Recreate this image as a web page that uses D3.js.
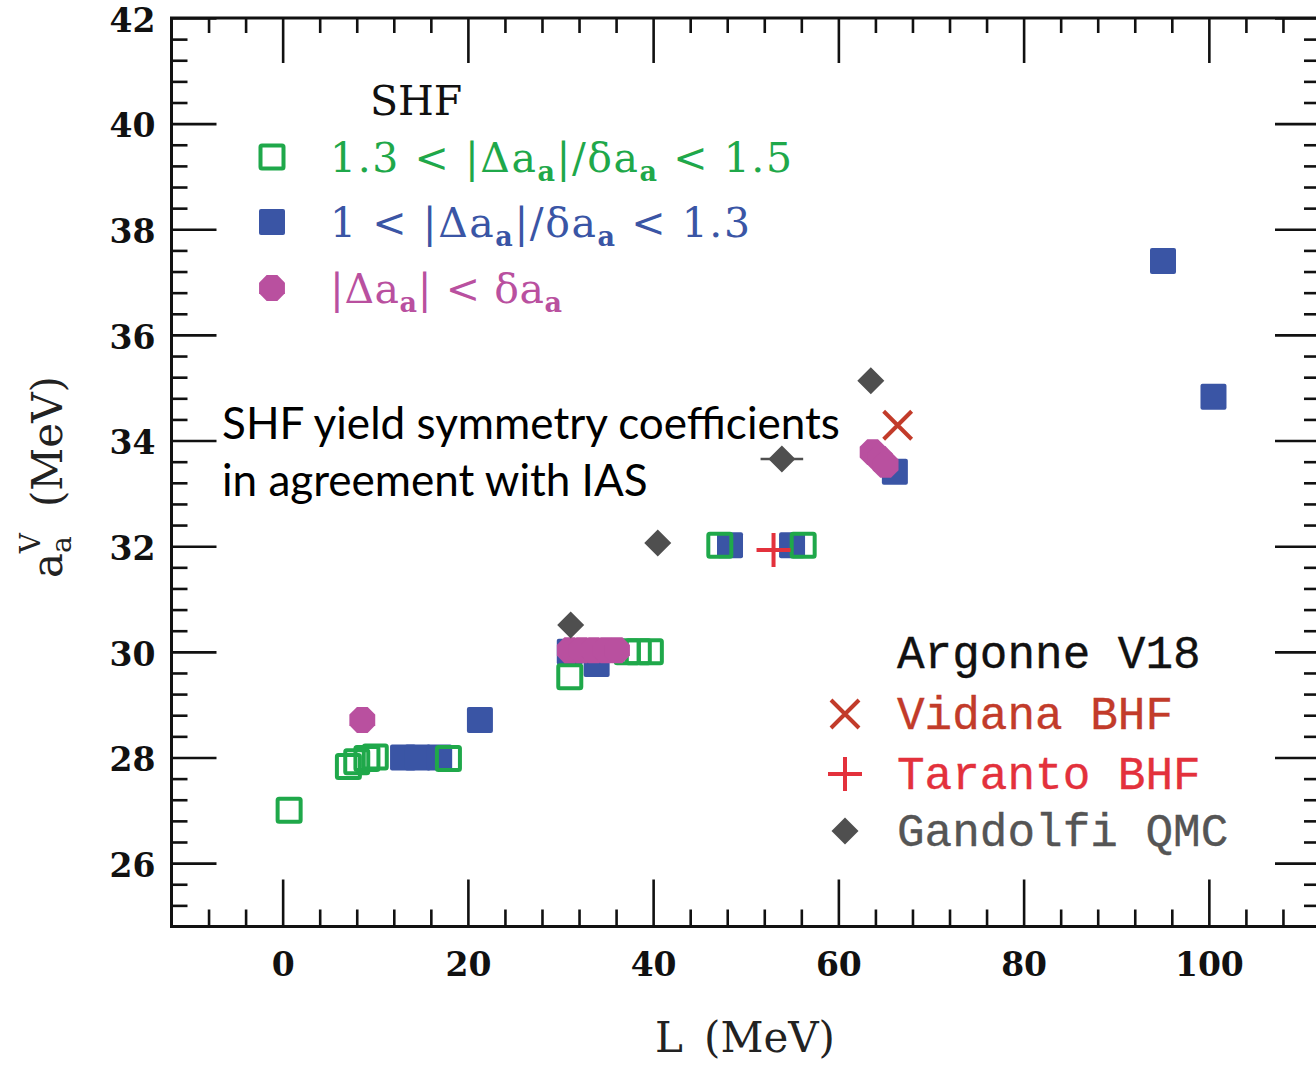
<!DOCTYPE html>
<html><head><meta charset="utf-8">
<script src="https://cdn.jsdelivr.net/npm/d3@7"></script>
<style>body{margin:0;background:#fff} svg{display:block}</style>
</head><body>
<svg id="c" width="1316" height="1066"></svg>
<script>
// ---- tick labels ----
const xMajorTicks = [0, 20, 40, 60, 80, 100];
const yMajorTicks = [26, 28, 30, 32, 34, 36, 38, 40, 42];
const xMinorTicks = d3.range(-2, 28).map(i => i * 4).filter(v => v % 20 !== 0);
const yMinorTicks = d3.range(63, 105).filter(i => i % 5 !== 0).map(i => +(i * 0.4).toFixed(1));

// ---- data: SHF 1.3 < |Δa|/δa < 1.5 (open green squares) ----
const greenL = [0.7, 7.1, 8.0, 9.1, 10.0, 17.9, 31.0, 37.2, 38.4, 39.7, 47.2, 56.2];
const greenA = [27.0, 27.83, 27.92, 27.98, 28.01, 27.98, 29.53, 30.0, 30.0, 30.0, 32.02, 32.02];
// ---- SHF 1 < |Δa|/δa < 1.3 (filled blue squares) ----
const blueL = [13.0, 14.6, 16.9, 21.3, 31.0, 33.9, 48.3, 55.0, 66.1, 95.05, 100.5];
const blueA = [28.0, 28.0, 28.0, 28.71, 30.0, 29.77, 32.02, 32.02, 33.41, 37.4, 34.83];
// ---- SHF |Δa| < δa (magenta octagons) ----
const magL = [8.6, 31.0, 32.3, 33.6, 34.9, 36.1, 63.7, 64.5, 65.1];
const magA = [28.71, 30.03, 30.03, 30.03, 30.03, 30.03, 33.78, 33.65, 33.54];
// ---- Argonne V18 ----
const vidanaL = [66.4];
const vidanaA = [34.29];
const tarantoL = [53.0];
const tarantoA = [31.93];
const gandolfiL = [31.1, 40.5, 53.9, 63.5];
const gandolfiA = [30.51, 32.06, 33.65, 35.13];
const gandolfiErrL = [0, 0, 2.3, 0];

const C = {green: "#1fa84a", blue: "#3a55a5", mag: "#b9509f", grey: "#4f4f4f",
           vidana: "#c23b2a", taranto: "#e3313c"};

const svg = d3.select("#c");
const X0 = 171.5, X1 = 1320, Y0 = 926.5, Y1 = 18;
const x = d3.scaleLinear().domain([-12, 112]).range([X0, X1]);
const y = d3.scaleLinear().domain([24.8, 42]).range([Y0, Y1]);

const tickFont = "DejaVu Serif";
function styleAxis(g, hideText) {
  g.select(".domain").remove();
  g.selectAll(".tick line").attr("stroke", "#111").attr("stroke-width", 2.6);
  g.selectAll(".tick text").attr("font-family", tickFont).attr("font-weight", "bold")
    .attr("font-size", 33).attr("fill", "#111");
  if (hideText) g.selectAll(".tick text").remove();
}
// bottom
svg.append("g").attr("transform", `translate(0,${Y0})`)
  .call(d3.axisBottom(x).tickValues(xMajorTicks).tickSize(-47).tickPadding(26).tickFormat(d3.format("d")))
  .call(g => styleAxis(g, false));
svg.append("g").attr("transform", `translate(0,${Y0})`)
  .call(d3.axisBottom(x).tickValues(xMinorTicks).tickSize(-17).tickFormat(""))
  .call(g => styleAxis(g, true));
// top
svg.append("g").attr("transform", `translate(0,${Y1})`)
  .call(d3.axisTop(x).tickValues(xMajorTicks).tickSize(-45).tickFormat(""))
  .call(g => styleAxis(g, true));
svg.append("g").attr("transform", `translate(0,${Y1})`)
  .call(d3.axisTop(x).tickValues(xMinorTicks).tickSize(-15).tickFormat(""))
  .call(g => styleAxis(g, true));
// left
svg.append("g").attr("transform", `translate(${X0},0)`)
  .call(d3.axisLeft(y).tickValues(yMajorTicks).tickSize(-45).tickPadding(16).tickFormat(d3.format("d")))
  .call(g => { styleAxis(g, false); g.selectAll(".tick text").attr("dy", "0.4em"); });
svg.append("g").attr("transform", `translate(${X0},0)`)
  .call(d3.axisLeft(y).tickValues(yMinorTicks).tickSize(-16).tickFormat(""))
  .call(g => styleAxis(g, true));
// right
svg.append("g").attr("transform", `translate(${X1},0)`)
  .call(d3.axisRight(y).tickValues(yMajorTicks).tickSize(-45).tickFormat(""))
  .call(g => styleAxis(g, true));
svg.append("g").attr("transform", `translate(${X1},0)`)
  .call(d3.axisRight(y).tickValues(yMinorTicks).tickSize(-16).tickFormat(""))
  .call(g => styleAxis(g, true));
// frame
svg.append("rect").attr("x", X0).attr("y", Y1).attr("width", X1 - X0).attr("height", Y0 - Y1)
  .attr("fill", "none").attr("stroke", "#111").attr("stroke-width", 3);

// ---- marker helpers ----
function octagonPath(r) {
  const pts = d3.range(8).map(i => {
    const a = Math.PI / 8 + i * Math.PI / 4;
    return [r * Math.cos(a), r * Math.sin(a)];
  });
  return d3.line()(pts) + "Z";
}
function drawMarker(g, type, color) {
  if (type === "blue") {
    g.append("rect").attr("x", -13).attr("y", -13).attr("width", 26).attr("height", 26)
      .attr("rx", 2).attr("fill", color);
  } else if (type === "green") {
    g.append("rect").attr("x", -11.5).attr("y", -11.5).attr("width", 23).attr("height", 23)
      .attr("rx", 1.5).attr("fill", "none").attr("stroke", color).attr("stroke-width", 4);
  } else if (type === "mag") {
    g.append("path").attr("d", octagonPath(14)).attr("fill", color);
  } else if (type === "grey") {
    g.append("path").attr("d", "M0,-13.5L13.5,0L0,13.5L-13.5,0Z").attr("fill", color);
  } else if (type === "vidana") {
    g.append("path").attr("d", "M-14,-14L14,14M-14,14L14,-14").attr("stroke", color)
      .attr("stroke-width", 4).attr("fill", "none");
  } else if (type === "taranto") {
    g.append("path").attr("d", "M-17,0L17,0M0,-17L0,17").attr("stroke", color)
      .attr("stroke-width", 4).attr("fill", "none");
  }
}
function plotSeries(Ls, As, type, color) {
  const g = svg.append("g");
  Ls.forEach((L, i) => {
    const m = g.append("g").attr("transform", `translate(${x(L)},${y(As[i])})`);
    drawMarker(m, type, color);
  });
}

// error bar for Gandolfi
svg.append("g").selectAll("line").data(gandolfiL.map((L, i) => ({L, a: gandolfiA[i], e: gandolfiErrL[i]})).filter(d => d.e > 0))
  .join("line")
  .attr("x1", d => x(d.L - d.e)).attr("x2", d => x(d.L + d.e))
  .attr("y1", d => y(d.a)).attr("y2", d => y(d.a))
  .attr("stroke", C.grey).attr("stroke-width", 2.5);

plotSeries(blueL, blueA, "blue", C.blue);
plotSeries(greenL, greenA, "green", C.green);
plotSeries(magL, magA, "mag", C.mag);
plotSeries(gandolfiL, gandolfiA, "grey", C.grey);
plotSeries(vidanaL, vidanaA, "vidana", C.vidana);
plotSeries(tarantoL, tarantoA, "taranto", C.taranto);

// ---- axis titles ----
const serif = "DejaVu Serif";
const xt = svg.append("text").attr("x", 655).attr("y", 1052).attr("font-family", serif)
  .attr("font-size", 42).attr("fill", "#222");
xt.append("tspan").text("L");
xt.append("tspan").attr("x", 704).text("(MeV)");

const yt = svg.append("text").attr("transform", "translate(62,578) rotate(-90)")
  .attr("font-family", serif).attr("font-size", 42).attr("fill", "#222");
yt.append("tspan").text("a");
yt.append("tspan").attr("font-size", 28).attr("dy", 9).text("a");
yt.append("tspan").attr("font-size", 28).attr("dx", -17).attr("dy", -31).text("V");
yt.append("tspan").attr("dy", 22).attr("dx", 26).text("(MeV)");

// ---- SHF legend ----
const legSize = 41;
svg.append("text").attr("x", 370).attr("y", 115).attr("font-family", serif)
  .attr("font-size", legSize).attr("fill", "#111").text("SHF");
function mathLine(yb, parts, color, targetW) {
  const t = svg.append("text").attr("x", 330).attr("y", yb).attr("font-family", serif)
    .attr("font-size", legSize).attr("fill", color).attr("xml:space", "preserve");
  let shifted = false, n = 0;
  parts.forEach(p => {
    const ts = t.append("tspan").text(p.t);
    n += p.t.length;
    if (p.sub) { ts.attr("font-size", 27).attr("font-weight", "bold").attr("dy", 9); shifted = true; }
    else if (shifted) { ts.attr("dy", -9); shifted = false; }
  });
  const w = t.node().getComputedTextLength();
  const ls = (targetW - w) / Math.max(1, n - 1);
  t.attr("letter-spacing", ls);
  return t;
}
const legRows = [
  {type: "green", color: C.green, yb: 172, w: 462,
   parts: [{t: "1.3 < |Δa"}, {t: "a", sub: true}, {t: "|/δa"}, {t: "a", sub: true}, {t: " < 1.5"}]},
  {type: "blue", color: C.blue, yb: 237, w: 420,
   parts: [{t: "1 < |Δa"}, {t: "a", sub: true}, {t: "|/δa"}, {t: "a", sub: true}, {t: " < 1.3"}]},
  {type: "mag", color: C.mag, yb: 303, w: 232,
   parts: [{t: "|Δa"}, {t: "a", sub: true}, {t: "| < δa"}, {t: "a", sub: true}]}
];
legRows.forEach(r => {
  const m = svg.append("g").attr("transform", `translate(272,${r.yb - 15})`);
  drawMarker(m, r.type, r.color);
  mathLine(r.yb, r.parts, r.color, r.w);
});

// ---- Argonne legend ----
const mono = "Liberation Mono";
const rl = [
  {label: "Argonne V18", color: "#111", yb: 668, type: null},
  {label: "Vidana BHF", color: C.vidana, yb: 729, type: "vidana"},
  {label: "Taranto BHF", color: C.taranto, yb: 789, type: "taranto"},
  {label: "Gandolfi QMC", color: "#555", yb: 846, type: "grey"}
];
rl.forEach(r => {
  svg.append("text").attr("x", 897).attr("y", r.yb).attr("font-family", mono)
    .attr("font-size", 46).attr("fill", r.color).attr("stroke", r.color).attr("stroke-width", 0.35)
    .attr("xml:space", "preserve").text(r.label);
  if (r.type) {
    const m = svg.append("g").attr("transform", `translate(845,${r.yb - 15})`);
    drawMarker(m, r.type, r.type === "grey" ? C.grey : r.color);
  }
});

// ---- annotation ----
const ann = ["SHF yield symmetry coefficients", "in agreement with IAS"];
const annY = [439, 496];
const a0 = svg.append("text").attr("x", 222).attr("y", annY[0]).attr("font-family", "Lato")
  .attr("font-size", 40).attr("fill", "#000").text(ann[0]);
const w0 = a0.node().getComputedTextLength();
const fs = 40 * 618 / w0;
a0.attr("font-size", fs);
svg.append("text").attr("x", 222).attr("y", annY[1]).attr("font-family", "Lato")
  .attr("font-size", fs).attr("fill", "#000").text(ann[1]);
</script>
</body></html>
